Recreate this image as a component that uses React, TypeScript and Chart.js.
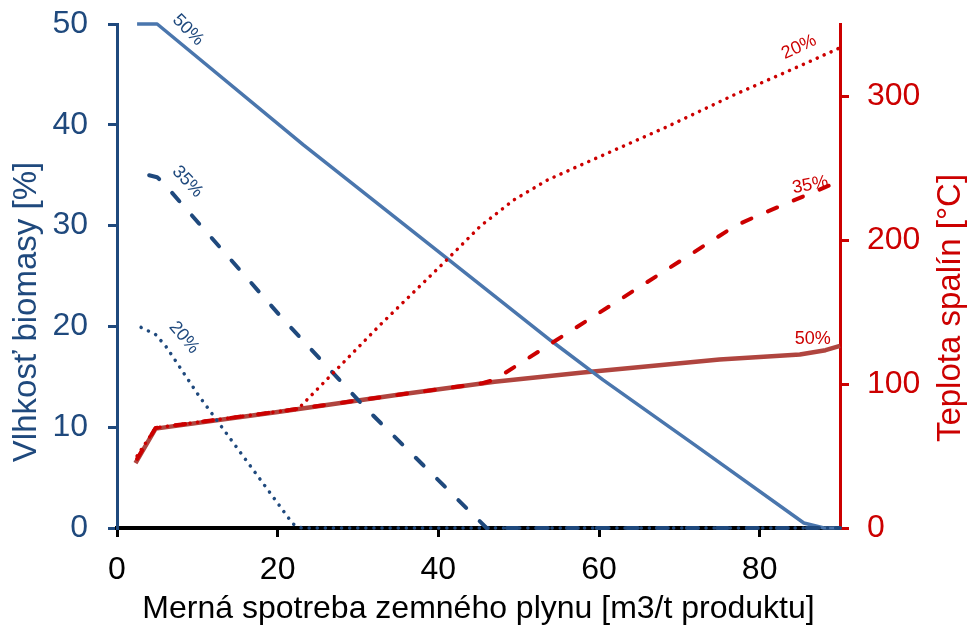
import React, { useEffect, useRef } from 'react';
import { Chart, registerables } from 'chart.js';
Chart.register(...registerables);

const FONT = "'Liberation Sans', Arial, Helvetica, sans-serif";
const DARK_BLUE = '#1f497d';
const MID_BLUE = '#4a76ad';
const RED = '#cc0000';
const BROWN = '#b0453f';

// tick labels
const xTicks = [0, 20, 40, 60, 80];
const leftTicks = [0, 10, 20, 30, 40, 50];
const rightTicks = [0, 100, 200, 300];

// Vlhkosť biomasy [%] (left axis)
const blue50X = [2.5, 5, 23.2, 41, 54, 60.5, 72, 85.5, 88, 90];
const blue50Y = [50, 50, 38.0, 26.8, 18.6, 14.7, 8.2, 0.5, 0, 0];
const blue35X = [4, 5, 5.8, 20.7, 30.7, 46, 90];
const blue35Y = [35, 34.8, 34.2, 20.7, 12.1, 0, 0];
const blue20X = [3, 4.8, 6.1, 10.25, 16, 21.9, 23, 90];
const blue20Y = [19.9, 19.2, 18, 13.05, 6.8, 0.4, 0, 0];

// Teplota spalín [°C] (right axis)
const red50X = [2.3, 4.8, 20, 35, 47, 58, 75, 85, 88.2, 90];
const red50Y = [45, 69, 80.5, 92.5, 101.5, 108, 117, 120.5, 123.5, 126.5];
const red35X = [2.5, 4.8, 20, 35, 45.5, 47, 77, 80, 90];
const red35Y = [48, 69.5, 80.8, 92.5, 100.5, 103, 210, 217.5, 241];
const red20X = [2.5, 4.8, 20, 22.5, 32.75, 41.1, 45.25, 49.4, 53.6, 57.3, 68.6, 76.9, 85.25, 90];
const red20Y = [50, 69.5, 80.8, 82.5, 141, 186.5, 209.7, 227.8, 241.7, 251, 279, 301, 321.5, 333.5];

// series labels (data coordinates)
const seriesLabels = [
  { text: '50%', x: 8.84, y: 49.4, axis: 'y', angle: 45, color: DARK_BLUE },
  { text: '35%', x: 8.78, y: 34.35, axis: 'y', angle: 47, color: DARK_BLUE },
  { text: '20%', x: 8.34, y: 18.9, axis: 'y', angle: 50, color: DARK_BLUE },
  { text: '20%', x: 84.9, y: 334, axis: 'y2', angle: -25, color: RED },
  { text: '35%', x: 86.3, y: 238.2, axis: 'y2', angle: -11, color: RED },
  { text: '50%', x: 86.6, y: 131.25, axis: 'y2', angle: 0, color: RED },
];

const pts = (xs: number[], ys: number[]) => xs.map((x, i) => ({ x, y: ys[i] }));

const titlePlugin = {
  id: 'titles',
  afterDatasetsDraw(chart: any) {
    const ctx = chart.ctx;
    ctx.save();
    ctx.font = `18px ${FONT}`;
    ctx.textAlign = 'center';
    ctx.textBaseline = 'middle';
    for (const l of seriesLabels) {
      const px = chart.scales.x.getPixelForValue(l.x);
      const py = chart.scales[l.axis].getPixelForValue(l.y);
      ctx.save();
      ctx.translate(px, py);
      ctx.rotate((l.angle * Math.PI) / 180);
      ctx.fillStyle = l.color;
      ctx.fillText(l.text, 0, 0);
      ctx.restore();
    }
    ctx.restore();
  },
  afterDraw(chart: any) {
    const ctx = chart.ctx;
    const ca = chart.chartArea;
    ctx.save();
    ctx.textAlign = 'center';
    ctx.textBaseline = 'alphabetic';
    ctx.fillStyle = '#000';
    ctx.font = `32px ${FONT}`;
    ctx.fillText('Merná spotreba zemného plynu [m3/t produktu]', (ca.left + ca.right) / 2, 618);
    ctx.font = `33px ${FONT}`;
    ctx.save();
    ctx.translate(36, 312);
    ctx.rotate(-Math.PI / 2);
    ctx.fillStyle = DARK_BLUE;
    ctx.fillText('Vlhkosť biomasy [%]', 0, 0);
    ctx.restore();
    ctx.save();
    ctx.translate(960, 308);
    ctx.rotate(-Math.PI / 2);
    ctx.fillStyle = RED;
    ctx.fillText('Teplota spalín [°C]', 0, 0);
    ctx.restore();
    ctx.restore();
  },
};

export default function App() {
  const ref = useRef<HTMLCanvasElement>(null);
  useEffect(() => {
    if (!ref.current) return;
    const common = { pointRadius: 0, fill: false, tension: 0, clip: false as any, borderJoinStyle: 'round' as const };
    const fitV = (w: number) => (s: any) => { s.width = w; s.paddingTop = 0; s.paddingBottom = 0; };
    const chart = new Chart(ref.current, {
      type: 'line',
      data: {
        datasets: [
          { ...common, data: pts(red20X, red20Y), yAxisID: 'y2', borderColor: RED, borderWidth: 3.5, borderDash: [0.1, 7.5], borderCapStyle: 'round' },
          { ...common, data: pts(red35X, red35Y), yAxisID: 'y2', borderColor: RED, borderWidth: 4, borderDash: [10, 18], borderCapStyle: 'round' },
          { ...common, data: pts(blue20X, blue20Y), yAxisID: 'y', borderColor: DARK_BLUE, borderWidth: 3.5, borderDash: [0.1, 8], borderCapStyle: 'round' },
          { ...common, data: pts(blue35X, blue35Y), yAxisID: 'y', borderColor: DARK_BLUE, borderWidth: 4, borderDash: [11, 19], borderCapStyle: 'round' },
          { ...common, data: pts(blue50X, blue50Y), yAxisID: 'y', borderColor: MID_BLUE, borderWidth: 3.5 },
          { ...common, data: pts(red50X, red50Y), yAxisID: 'y2', borderColor: BROWN, borderWidth: 4.5 },
        ] as any,
      },
      options: {
        animation: false,
        responsive: false,
        devicePixelRatio: 1,
        layout: { padding: { top: 24, left: 0, right: 0, bottom: 0 } },
        plugins: { legend: { display: false }, tooltip: { enabled: false }, title: { display: false } },
        scales: {
          x: {
            type: 'linear', min: 0, max: 90, position: 'bottom',
            afterBuildTicks: (s: any) => { s.ticks = xTicks.map((v) => ({ value: v })); },
            grid: { drawOnChartArea: false, drawTicks: true, tickLength: 9, lineWidth: 3, color: '#000' },
            border: { display: true, color: '#000', width: 4 },
            ticks: { color: '#000', font: { family: FONT, size: 32 }, padding: 14, maxRotation: 0 },
            afterFit: (s: any) => { s.height = 100; s.paddingLeft = 0; s.paddingRight = 0; },
          },
          y: {
            type: 'linear', min: 0, max: 50, position: 'left',
            afterBuildTicks: (s: any) => { s.ticks = leftTicks.map((v) => ({ value: v })); },
            grid: { drawOnChartArea: false, drawTicks: true, tickLength: 9, lineWidth: 3, color: DARK_BLUE },
            border: { display: true, color: DARK_BLUE, width: 3 },
            ticks: { color: DARK_BLUE, font: { family: FONT, size: 32 }, padding: 20 },
            afterFit: fitV(117),
          },
          y2: {
            type: 'linear', min: 0, max: 350, position: 'right',
            afterBuildTicks: (s: any) => { s.ticks = rightTicks.map((v) => ({ value: v })); },
            grid: { drawOnChartArea: false, drawTicks: true, tickLength: 9, lineWidth: 3, color: RED },
            border: { display: true, color: RED, width: 3 },
            ticks: { color: RED, font: { family: FONT, size: 32 }, padding: 18 },
            afterFit: fitV(131),
          },
        },
      } as any,
      plugins: [titlePlugin],
    });
    return () => chart.destroy();
  }, []);
  return (
    <div style={{ position: 'absolute', left: 0, top: 0, width: 971, height: 628, background: '#fff' }}>
      <canvas ref={ref} width={971} height={628} />
    </div>
  );
}
